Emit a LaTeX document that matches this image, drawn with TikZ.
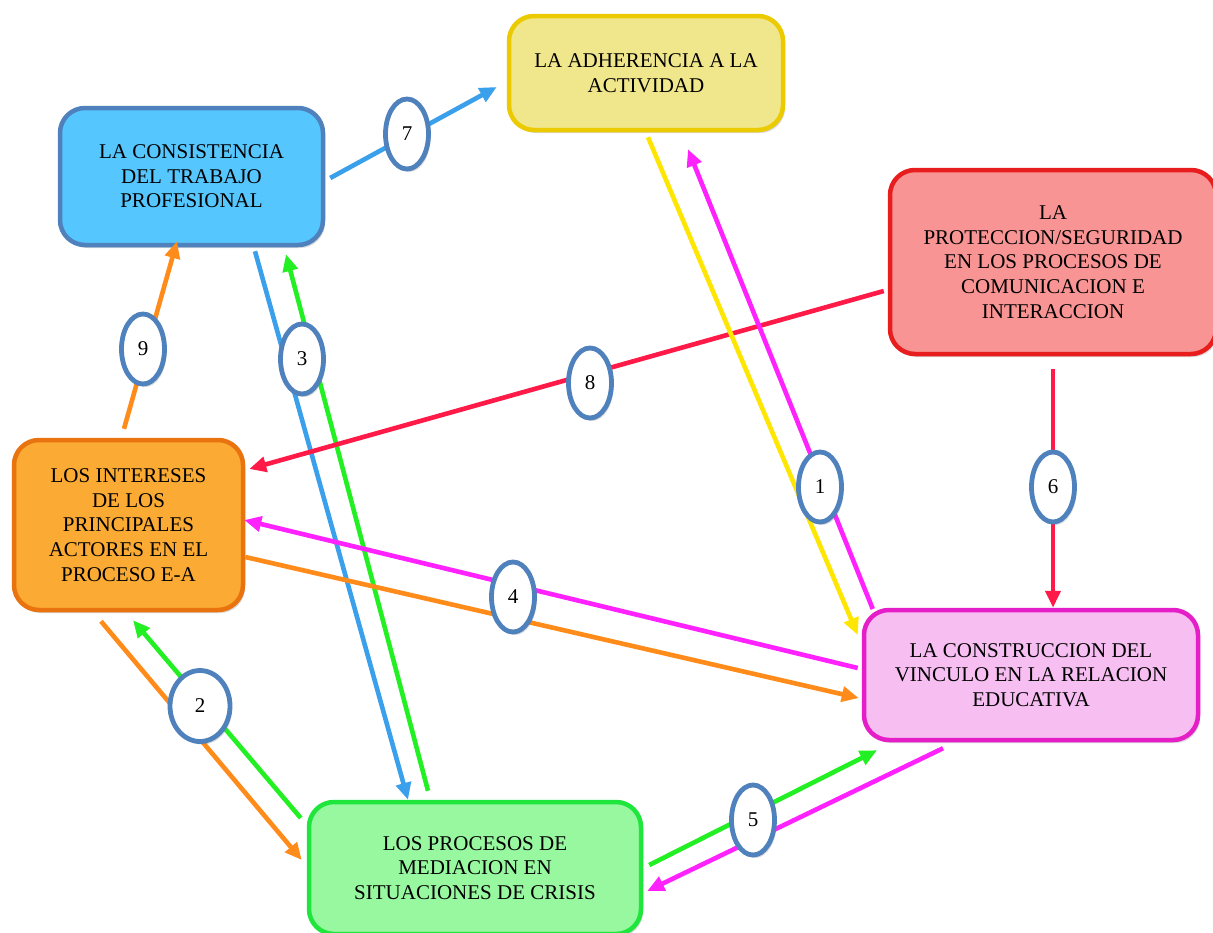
\documentclass[tikz,border=0pt]{standalone}
\usepackage{fontspec}
\setmainfont{Liberation Serif}
\usetikzlibrary{arrows.meta,shapes.geometric,shadows}
\definecolor{ylfill}{HTML}{F0E68C}\definecolor{yldraw}{HTML}{EBCB00}
\definecolor{blfill}{HTML}{56C6FF}\definecolor{bldraw}{HTML}{4F81BD}
\definecolor{rdfill}{HTML}{F99494}\definecolor{rddraw}{HTML}{E81E1E}
\definecolor{orfill}{HTML}{FBAA33}\definecolor{ordraw}{HTML}{E8730F}
\definecolor{pkfill}{HTML}{F7BEF2}\definecolor{pkdraw}{HTML}{E61EC8}
\definecolor{grfill}{HTML}{98F8A0}\definecolor{grdraw}{HTML}{1EE63C}
\definecolor{ablue}{HTML}{3AA0EC}\definecolor{aorange}{HTML}{FF8C1A}
\definecolor{agreen}{HTML}{22F022}\definecolor{amag}{HTML}{FF22FF}
\definecolor{ayellow}{HTML}{FFE600}\definecolor{ared}{HTML}{FF1A48}
\definecolor{elldraw}{HTML}{4F81BD}
\tikzset{
  boxnode/.style={rounded corners=25pt, line width=4.5pt, align=center, inner sep=0pt,
    font=\fontsize{21}{24.6}\selectfont,
    drop shadow={shadow xshift=2pt, shadow yshift=-3pt, opacity=0.25, fill=black!60}},
  lbl/.style={ellipse, draw=elldraw, fill=white, line width=4.8pt, inner sep=0pt,
    minimum width=43pt, minimum height=70pt, font=\fontsize{21}{24}\selectfont,
    drop shadow={shadow xshift=2pt, shadow yshift=-3pt, opacity=0.25, fill=black!60}},
  conn/.style={line width=4.6pt, -{Triangle[length=17pt, width=15pt]}}
}
\begin{document}
\begin{tikzpicture}[x=1pt,y=-1pt]
\useasboundingbox[fill=white] (0,0) rectangle (1213,932);
% boxes
\node[boxnode, fill=ylfill, draw=yldraw, minimum width=274pt, minimum height=114pt] (ya) at (646,73) {LA ADHERENCIA A LA\\ACTIVIDAD};
\node[boxnode, fill=blfill, draw=bldraw, minimum width=263pt, minimum height=137pt] (bl) at (191.5,176.5) {LA CONSISTENCIA\\DEL TRABAJO\\PROFESIONAL};
\node[boxnode, fill=rdfill, draw=rddraw, minimum width=326pt, minimum height=184pt] (rd) at (1053,262) {LA\\PROTECCION/SEGURIDAD\\EN LOS PROCESOS DE\\COMUNICACION E\\INTERACCION};
\node[boxnode, fill=orfill, draw=ordraw, minimum width=229pt, minimum height=170pt] (or) at (128.5,525) {LOS INTERESES\\DE LOS\\PRINCIPALES\\ACTORES EN EL\\PROCESO E-A};
\node[boxnode, fill=pkfill, draw=pkdraw, minimum width=334pt, minimum height=130pt] (pk) at (1031,675) {LA CONSTRUCCION DEL\\VINCULO EN LA RELACION\\EDUCATIVA};
\node[boxnode, fill=grfill, draw=grdraw, minimum width=332pt, minimum height=132pt] (gr) at (475,868) {LOS PROCESOS DE\\MEDIACION EN\\SITUACIONES DE CRISIS};
% connectors
\draw[conn, ablue] ([shift={(5,1.5)}]bl.east) -- ([shift={(-10,14)}]ya.west);
\draw[conn, aorange] ([shift={(-4.5,-9)}]or.north) -- ([shift={(-14.5,-6)}]bl.south);
\draw[conn, ablue] ([shift={(63.5,4)}]bl.south) -- ([shift={(-67,0)}]gr.north);
\draw[conn, agreen] ([shift={(-47,-9)}]gr.north) -- ([shift={(94.5,7)}]bl.south);
\draw[conn, ared] ([shift={(-4,29)}]rd.west) -- ([shift={(4,-56)}]or.east);
\draw[conn, ayellow] ([shift={(2,5)}]ya.south) -- ([shift={(-4,-40)}]pk.west);
\draw[conn, amag] ([shift={(11,-66)}]pk.west) -- ([shift={(42,17)}]ya.south);
\draw[conn, ared] ([shift={(0,13)}]rd.south) -- ([shift={(22,0)}]pk.north);
\draw[conn, amag] ([shift={(-4,-7)}]pk.west) -- ([shift={(-1,-5)}]or.east);
\draw[conn, aorange] ([shift={(0,32)}]or.east) -- ([shift={(-3,23)}]pk.west);
\draw[conn, aorange] ([shift={(-27.5,9)}]or.south) -- ([shift={(-5,-8)}]gr.west);
\draw[conn, agreen] ([shift={(-6,-50)}]gr.west) -- ([shift={(4.5,8)}]or.south);
\draw[conn, agreen] ([shift={(6,-3)}]gr.east) -- ([shift={(-154,8)}]pk.south);
\draw[conn, amag] ([shift={(-88,6)}]pk.south) -- ([shift={(4,23)}]gr.east);
% labels
\node[lbl] (l7) at (407,134) {7};
\node[lbl] (l9) at (143,349) {9};
\node[lbl] (l3) at (302,359) {3};
\node[lbl] (l8) at (590,383) {8};
\node[lbl] (l1) at (820,487) {1};
\node[lbl] (l6) at (1053,487) {6};
\node[lbl] (l4) at (513,597) {4};
\node[lbl, minimum width=60pt, minimum height=71pt] (l2) at (200,706) {2};
\node[lbl] (l5) at (753,820) {5};
\end{tikzpicture}
\end{document}
